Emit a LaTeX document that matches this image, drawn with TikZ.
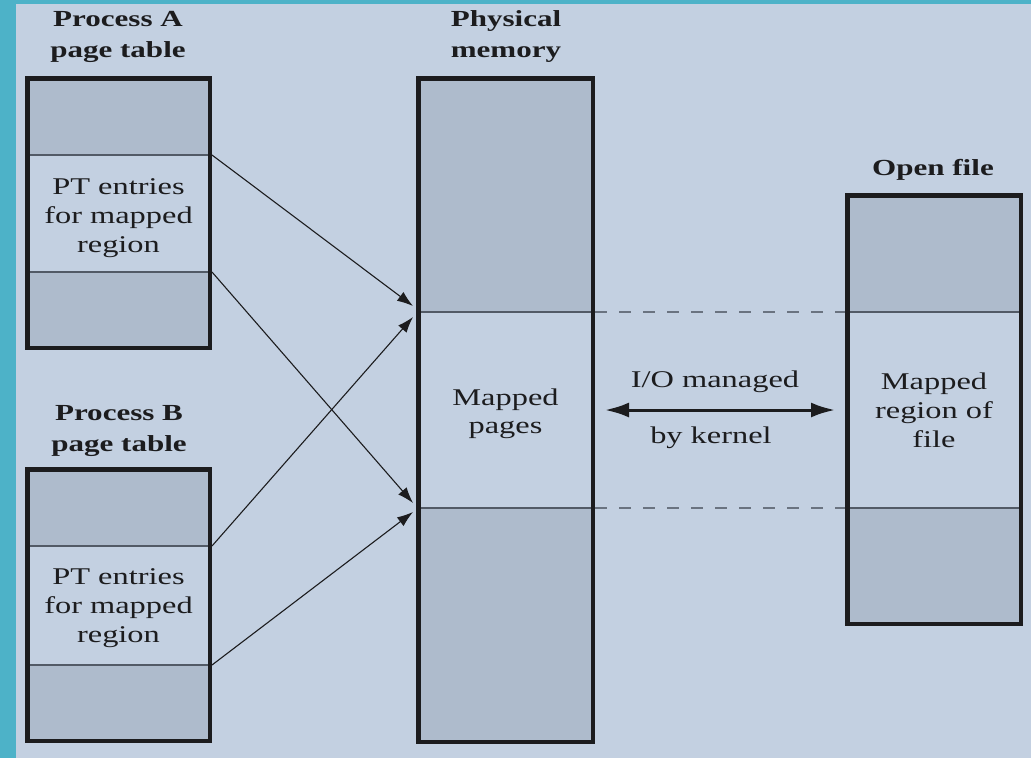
\documentclass[tikz,border=0pt]{standalone}
\usepackage{fontspec}
\setmainfont{Liberation Serif}[FakeStretch=1.35]
\usetikzlibrary{arrows.meta,calc}

\definecolor{bgblue}{HTML}{C3D0E1}
\definecolor{shadeblue}{HTML}{AEBBCC}
\definecolor{frameteal}{HTML}{4DB2C8}
\definecolor{inkdark}{HTML}{1C1C1E}
\definecolor{divline}{HTML}{525A66}
\definecolor{dashgray}{HTML}{6A7380}

\tikzset{
  seg/.style={rectangle, anchor=north west, inner sep=0pt, outer sep=0pt},
  dark/.style={seg, fill=shadeblue},
  light/.style={seg, fill=bgblue},
  divider/.style={draw=divline, line width=1.4pt},
  outline/.style={draw=inkdark, line width=4.5pt},
  title/.style={align=center, inner sep=0pt, text=inkdark,
                font=\bfseries\fontsize{23}{31}\selectfont},
  body/.style={align=center, inner sep=0pt, text=inkdark,
               font=\fontsize{24}{29}\selectfont},
  ptr/.style={draw=inkdark, line width=1.1pt,
              -{Latex[length=16pt,width=11pt]}},
  ioarrow/.style={draw=inkdark, line width=3pt,
              {Latex[length=24pt,width=15pt]}-{Latex[length=24pt,width=15pt]}},
  guide/.style={draw=dashgray, line width=1.2pt, dash pattern=on 12pt off 12pt}
}

\begin{document}
\begin{tikzpicture}[x=1pt,y=-1pt]
\useasboundingbox (0,0) rectangle (1031,758);
\fill[frameteal] (0,0) rectangle (1031,758);
\fill[bgblue] (16,4) rectangle (1031,758);

% Process A page table
\node[dark,  minimum width=187pt, minimum height=79pt]  (aTop) at (25,76) {};
\node[light, minimum width=187pt, minimum height=117pt] (aMid) at (25,155) {};
\node[dark,  minimum width=187pt, minimum height=78pt]  (aBot) at (25,272) {};

% Process B page table
\node[dark,  minimum width=187pt, minimum height=79pt]  (bTop) at (25,467) {};
\node[light, minimum width=187pt, minimum height=119pt] (bMid) at (25,546) {};
\node[dark,  minimum width=187pt, minimum height=78pt]  (bBot) at (25,665) {};

% Physical memory
\node[dark,  minimum width=179pt, minimum height=236pt] (pTop) at (416,76) {};
\node[light, minimum width=179pt, minimum height=196pt] (pMid) at (416,312) {};
\node[dark,  minimum width=179pt, minimum height=236pt] (pBot) at (416,508) {};

% Open file
\node[dark,  minimum width=178pt, minimum height=119pt] (fTop) at (845,193) {};
\node[light, minimum width=178pt, minimum height=196pt] (fMid) at (845,312) {};
\node[dark,  minimum width=178pt, minimum height=118pt] (fBot) at (845,508) {};

% region borders
\foreach \s in {aMid,aBot,bMid,bBot,pMid,pBot,fMid,fBot}
  \draw[divider] (\s.north west) -- (\s.north east);

% thick column outlines
\draw[outline] ($(aTop.north west)+(2.25,2.25)$) rectangle ($(aBot.south east)+(-2.25,-2.25)$);
\draw[outline] ($(bTop.north west)+(2.25,2.25)$) rectangle ($(bBot.south east)+(-2.25,-2.25)$);
\draw[outline] ($(pTop.north west)+(2.25,2.25)$) rectangle ($(pBot.south east)+(-2.25,-2.25)$);
\draw[outline] ($(fTop.north west)+(2.25,2.25)$) rectangle ($(fBot.south east)+(-2.25,-2.25)$);

% texts inside the mapped regions
\node[body] (aTxt) at ($(aMid.center)+(0,5)$) {PT entries\\for mapped\\region};
\node[body] (bTxt) at ($(bMid.center)+(0,3)$) {PT entries\\for mapped\\region};
\node[body, font=\fontsize{24}{28}\selectfont] (pTxt) at ($(pMid.center)+(0,4)$) {Mapped\\pages};
\node[body] (fTxt) at (fMid.center) {Mapped\\region of\\file};

% dashed correspondence lines
\draw[guide] (pMid.north east) -- (fMid.north west);
\draw[guide] (pBot.north east) -- (fBot.north west);

% page-table entries pointing at the shared frames
\coordinate (tA1) at ($(pMid.north west)+(-3,-6)$);
\coordinate (tB1) at ($(pMid.north west)+(-3,5)$);
\coordinate (tA2) at ($(pBot.north west)+(-3,-5)$);
\coordinate (tB2) at ($(pBot.north west)+(-3,4)$);
\draw[ptr] (aMid.north east) -- (tA1);
\draw[ptr] (aBot.north east) -- (tA2);
\draw[ptr] (bMid.north east) -- (tB1);
\draw[ptr] (bBot.north east) -- (tB2);

% kernel-managed I/O
\coordinate (ioL) at ($(pMid.east)+(10,0)$);
\coordinate (ioR) at ($(fMid.west)+(-10,0)$);
\draw[ioarrow] (ioL) -- (ioR);
\node[body, anchor=base] (io1) at (715,387) {I/O managed};
\node[body, anchor=base] (io2) at (711,443) {by kernel};

% column headings
\node[title] (aLbl) at (118,37) {Process A\\page table};
\node[title] (bLbl) at (119,431) {Process B\\page table};
\node[title] (pLbl) at (506,37) {Physical\\memory};
\node[title, anchor=base] (fLbl) at (933,175) {Open file};
\end{tikzpicture}
\end{document}
